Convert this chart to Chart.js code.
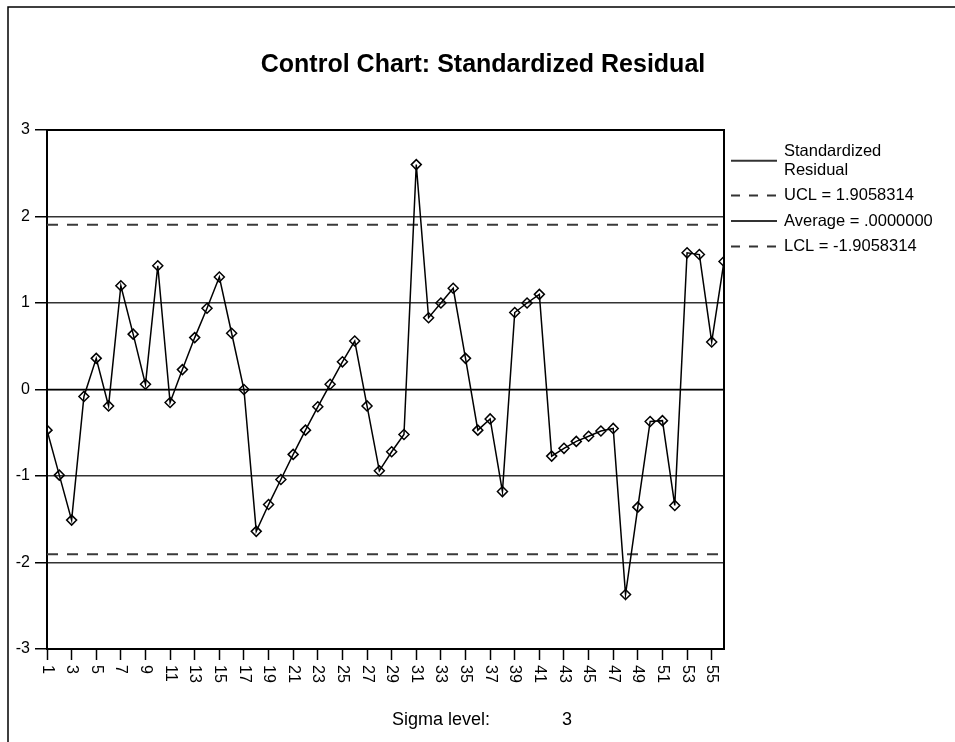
<!DOCTYPE html>
<html>
<head>
<meta charset="utf-8">
<title>Control Chart: Standardized Residual</title>
<script src="https://cdn.jsdelivr.net/npm/chart.js@4/dist/chart.umd.min.js"></script>
<style>
  html, body { margin: 0; padding: 0; background: #ffffff; }
  canvas { display: block; }
</style>
</head>
<body>
<canvas id="chart" width="955" height="742"></canvas>
<script>
// Case numbers along the horizontal axis
const caseNumbers = ['1','2','3','4','5','6','7','8','9','10',
  '11','12','13','14','15','16','17','18','19','20',
  '21','22','23','24','25','26','27','28','29','30',
  '31','32','33','34','35','36','37','38','39','40',
  '41','42','43','44','45','46','47','48','49','50',
  '51','52','53','54','55','56'];

// Standardized residual for each case
const residuals = [-0.47, -0.99, -1.51, -0.08, 0.36, -0.19, 1.20, 0.64, 0.06, 1.43,
  -0.15, 0.23, 0.60, 0.94, 1.30, 0.65, 0.00, -1.64, -1.33, -1.04,
  -0.75, -0.47, -0.20, 0.06, 0.32, 0.56, -0.19, -0.94, -0.72, -0.52,
  2.60, 0.83, 1.00, 1.17, 0.36, -0.47, -0.34, -1.18, 0.89, 1.00,
  1.10, -0.77, -0.68, -0.60, -0.54, -0.48, -0.45, -2.37, -1.36, -0.37,
  -0.36, -1.34, 1.58, 1.56, 0.55, 1.48];

// Control limits
const upperLimit = 1.9058314;
const centerLine = 0.0;
const lowerLimit = -1.9058314;

// Vertical axis tick values
const yTickValues = [3, 2, 1, 0, -1, -2, -3];
const sigmaLevel = 3;

const FONT = '"Liberation Sans", Arial, Helvetica, sans-serif';

function limitSeries(v) {
  return [{ x: caseNumbers[0], y: v }, { x: caseNumbers[caseNumbers.length - 1], y: v }];
}

function fmtLimit(v) {
  const s = Math.abs(v).toFixed(7).replace(/^0/, '');
  return (v < 0 ? '-' : '') + s;
}

// Draws the surrounding frame, title, rotated case labels, legend and sigma note
const decorPlugin = {
  id: 'decor',
  afterDraw(chart) {
    const ctx = chart.ctx;
    const area = chart.chartArea;
    const xs = chart.scales.x;
    ctx.save();

    // outer frame (top and left edges)
    ctx.strokeStyle = '#000';
    ctx.lineWidth = 1.5;
    ctx.beginPath();
    ctx.moveTo(8, 742);
    ctx.lineTo(8, 7);
    ctx.lineTo(955, 7);
    ctx.stroke();

    // plot frame (top and right)
    ctx.lineWidth = 2;
    ctx.beginPath();
    ctx.moveTo(area.left, area.top);
    ctx.lineTo(area.right, area.top);
    ctx.lineTo(area.right, area.bottom);
    ctx.stroke();

    // title
    ctx.fillStyle = '#000';
    ctx.font = 'bold 25px ' + FONT;
    ctx.textAlign = 'center';
    ctx.textBaseline = 'alphabetic';
    ctx.fillText('Control Chart: Standardized Residual', 483, 72);

    // case labels, turned a quarter clockwise, every other case
    ctx.font = '16px ' + FONT;
    ctx.textAlign = 'left';
    ctx.textBaseline = 'middle';
    caseNumbers.forEach((lab, i) => {
      if (i % 2 !== 0) return;
      const px = xs.getPixelForTick(i);
      ctx.save();
      ctx.translate(px, 665);
      ctx.rotate(Math.PI / 2);
      ctx.fillText(lab, 0, 0);
      ctx.restore();
    });

    // legend
    const lx0 = 731, lx1 = 777, tx = 784, maxW = 160, lineH = 18.5, gap = 25.5;
    ctx.font = '16.5px ' + FONT;
    ctx.textAlign = 'left';
    ctx.textBaseline = 'middle';
    let y = 151.5;
    chart.data.datasets.forEach(ds => {
      const words = ds.label.split(' ');
      const lines = [];
      let cur = '';
      words.forEach(w => {
        const t = cur ? cur + ' ' + w : w;
        if (cur && ctx.measureText(t).width > maxW) { lines.push(cur); cur = w; }
        else cur = t;
      });
      lines.push(cur);
      const yMid = y + (lines.length - 1) * lineH / 2;
      ctx.save();
      ctx.strokeStyle = ds.legendColor;
      ctx.lineWidth = ds.legendWidth;
      ctx.setLineDash(ds.legendDash);
      ctx.beginPath();
      ctx.moveTo(lx0, yMid);
      ctx.lineTo(lx1, yMid);
      ctx.stroke();
      ctx.restore();
      ctx.fillStyle = '#000';
      lines.forEach((ln, k) => ctx.fillText(ln, tx, y + k * lineH));
      y += (lines.length - 1) * lineH + gap;
    });

    // sigma note
    ctx.font = '18px ' + FONT;
    ctx.textBaseline = 'alphabetic';
    ctx.textAlign = 'left';
    ctx.fillText('Sigma level:', 392, 725);
    ctx.fillText(String(sigmaLevel), 562, 725);

    ctx.restore();
  }
};

new Chart(document.getElementById('chart'), {
  type: 'line',
  data: {
    labels: caseNumbers,
    datasets: [
      {
        label: 'Standardized Residual',
        data: residuals,
        borderColor: '#000',
        borderWidth: 1.5,
        tension: 0,
        pointStyle: 'rectRot',
        pointRadius: 5,
        pointBorderWidth: 1.5,
        pointBorderColor: '#000',
        pointBackgroundColor: 'rgba(255,255,255,0)',
        clip: 0,
        legendColor: '#333', legendWidth: 2, legendDash: []
      },
      {
        label: 'UCL = ' + fmtLimit(upperLimit),
        data: limitSeries(upperLimit),
        borderColor: '#3a3a3a',
        borderWidth: 2,
        borderDash: [11, 9],
        pointRadius: 0,
        legendColor: '#333', legendWidth: 2, legendDash: [9, 9]
      },
      {
        label: 'Average = ' + fmtLimit(centerLine),
        data: limitSeries(centerLine),
        borderColor: '#000',
        borderWidth: 1.5,
        pointRadius: 0,
        legendColor: '#333', legendWidth: 2, legendDash: []
      },
      {
        label: 'LCL = ' + fmtLimit(lowerLimit),
        data: limitSeries(lowerLimit),
        borderColor: '#3a3a3a',
        borderWidth: 2,
        borderDash: [11, 9],
        pointRadius: 0,
        legendColor: '#333', legendWidth: 2, legendDash: [9, 9]
      }
    ]
  },
  options: {
    responsive: false,
    animation: false,
    events: [],
    layout: { padding: { left: 0, top: 130, right: 231, bottom: 0 } },
    plugins: {
      legend: { display: false },
      title: { display: false },
      tooltip: { enabled: false }
    },
    scales: {
      x: {
        type: 'category',
        offset: false,
        grid: {
          drawOnChartArea: false,
          drawTicks: true,
          tickLength: 11,
          tickWidth: 1.5,
          tickColor: c => (c.index % 2 === 0 ? '#000' : 'rgba(0,0,0,0)')
        },
        border: { display: true, color: '#000', width: 2 },
        ticks: { display: false, autoSkip: false },
        afterFit: s => { s.height = 93; }
      },
      y: {
        min: -3,
        max: 3,
        afterBuildTicks: s => { s.ticks = yTickValues.map(v => ({ value: v })); },
        grid: {
          color: '#333',
          lineWidth: 1.5,
          tickLength: 12,
          tickColor: '#000',
          tickWidth: 1.5
        },
        border: { display: true, color: '#000', width: 2 },
        ticks: {
          color: '#000',
          padding: 5,
          font: { family: FONT, size: 16 },
          callback: v => String(v)
        },
        afterFit: s => { s.width = 47; }
      }
    }
  },
  plugins: [decorPlugin]
});
</script>
</body>
</html>
